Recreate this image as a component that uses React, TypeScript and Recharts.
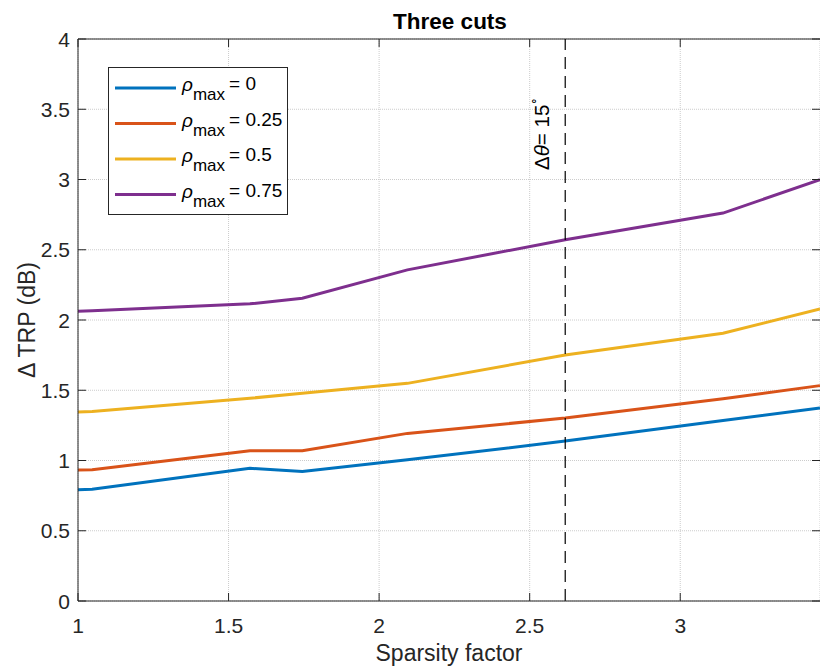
import React from 'react';
import { LineChart, Line, XAxis, YAxis, CartesianGrid, ReferenceLine } from 'recharts';

// ---- data ----
const sparsity = [1, 1.047, 1.571, 1.745, 2.094, 2.618, 3.142, 3.464];
const rho0 = [0.792, 0.795, 0.944, 0.922, 1.005, 1.138, 1.285, 1.373];
const rho025 = [0.932, 0.935, 1.07, 1.07, 1.193, 1.302, 1.44, 1.533];
const rho05 = [1.345, 1.348, 1.443, 1.478, 1.549, 1.751, 1.906, 2.079];
const rho075 = [2.062, 2.065, 2.115, 2.155, 2.357, 2.571, 2.761, 2.998];
const seriesKeys = ['r0', 'r025', 'r05', 'r075'];
const seriesValues = [rho0, rho025, rho05, rho075];
const seriesLabels = ['0', '0.25', '0.5', '0.75'];
const seriesColors = ['#0072BD', '#D95319', '#EDB120', '#7E2F8E'];
const xTicks = [1, 1.5, 2, 2.5, 3];
const yTicks = [0, 0.5, 1, 1.5, 2, 2.5, 3, 3.5, 4];
const xDomain = [1, 3.4641];
const yDomain = [0, 4];
const cutSparsity = 2.618;
const titleText = 'Three cuts';
const xLabel = 'Sparsity factor';
const yLabel = '\u0394 TRP (dB)';

const data = sparsity.map((x, i) => {
  const row: Record<string, number> = { x };
  seriesKeys.forEach((k, j) => {
    row[k] = seriesValues[j][i];
  });
  return row;
});

// ---- layout ----
const W = 820;
const H = 668;
const PL = 78;
const PT = 39;
const PR = 820;
const PB = 601;
const FONT = '"Liberation Sans", Arial, Helvetica, sans-serif';
const AX = '#262626';

const YTick = (props: any) => {
  const { y, payload } = props;
  return (
    <g>
      <line x1={PL} x2={PL + 8} y1={y} y2={y} stroke={AX} strokeWidth={1} />
      <line x1={PR - 8} x2={PR} y1={y} y2={y} stroke={AX} strokeWidth={1} />
      <text x={PL - 8} y={y} textAnchor="end" dominantBaseline="central" fontFamily={FONT} fontSize={21} fill={AX}>
        {String(payload.value)}
      </text>
    </g>
  );
};

const XTick = (props: any) => {
  const { x, payload } = props;
  return (
    <g>
      <line x1={x} x2={x} y1={PB} y2={PB - 8} stroke={AX} strokeWidth={1} />
      <line x1={x} x2={x} y1={PT} y2={PT + 8} stroke={AX} strokeWidth={1} />
      <text x={x} y={PB + 24} textAnchor="middle" dominantBaseline="central" fontFamily={FONT} fontSize={21} fill={AX}>
        {String(payload.value)}
      </text>
    </g>
  );
};

const CutLabel = (props: any) => {
  const vb = props.viewBox || {};
  const bx = (vb.x ?? 0) - 16;
  const by = 170;
  return (
    <text
      x={bx}
      y={by}
      transform={`rotate(-90 ${bx} ${by})`}
      fontFamily={FONT}
      fontSize={20.5}
      fill="#000"
      textAnchor="start"
    >
      <tspan>{'\u0394'}</tspan>
      <tspan fontStyle="italic">{'\u03B8'}</tspan>
      <tspan>{'= 15'}</tspan>
      <tspan fontSize={12} dy={-11}>{'\u2218'}</tspan>
    </text>
  );
};

const LegendBox = () => {
  const lx = 108;
  const ly = 67;
  const rowH = 35.5;
  return (
    <g>
      <rect x={lx + 0.5} y={ly + 0.5} width={179} height={147} fill="#fff" stroke={AX} strokeWidth={1} />
      {seriesLabels.map((lab, i) => {
        const cy = 88 + i * rowH;
        return (
          <g key={lab}>
            <line x1={115} x2={176} y1={cy} y2={cy} stroke={seriesColors[i]} strokeWidth={3} />
            <text x={182} y={cy + 3} fontFamily={FONT} fontSize={19} fill="#000">
              <tspan fontStyle="italic">{'\u03C1'}</tspan>
              <tspan fontSize={17} dy={9}>max</tspan>
              <tspan dy={-10} dx={4}>{'= ' + lab}</tspan>
            </text>
          </g>
        );
      })}
    </g>
  );
};

export default function App() {
  return (
    <div style={{ position: 'absolute', left: 0, top: 0, width: W, height: H, background: '#fff' }}>
      <LineChart width={W} height={H} data={data} margin={{ top: PT, right: 0, bottom: 0, left: 0 }}>
        <CartesianGrid stroke="#cccccc" strokeDasharray="1 1" strokeWidth={1} vertical horizontal />
        <XAxis
          dataKey="x"
          type="number"
          domain={xDomain}
          ticks={xTicks}
          allowDataOverflow
          height={H - PB}
          tickLine={false}
          axisLine={{ stroke: AX, strokeWidth: 1 }}
          tick={<XTick />}
          interval={0}
        />
        <YAxis
          type="number"
          domain={yDomain}
          ticks={yTicks}
          allowDataOverflow
          width={PL}
          tickLine={false}
          axisLine={{ stroke: AX, strokeWidth: 1 }}
          tick={<YTick />}
          interval={0}
        />
        <ReferenceLine y={4} stroke={AX} strokeWidth={1} />
        {seriesKeys.map((k, i) => (
          <Line
            key={k}
            type="linear"
            dataKey={k}
            stroke={seriesColors[i]}
            strokeWidth={3}
            dot={false}
            activeDot={false}
            isAnimationActive={false}
          />
        ))}
        <ReferenceLine
          x={cutSparsity}
          stroke="#000"
          strokeWidth={1.2}
          strokeDasharray="12 7"
          label={<CutLabel />}
        />
      </LineChart>
      <svg width={W} height={H} style={{ position: 'absolute', left: 0, top: 0, pointerEvents: 'none' }}>
        <text x={450} y={29} textAnchor="middle" fontFamily={FONT} fontSize={22.5} fontWeight="bold" fill="#000">
          {titleText}
        </text>
        <text x={449} y={661} textAnchor="middle" fontFamily={FONT} fontSize={23} fill={AX}>
          {xLabel}
        </text>
        <text
          x={35}
          y={320}
          transform="rotate(-90 35 320)"
          textAnchor="middle"
          fontFamily={FONT}
          fontSize={23}
          fill={AX}
        >
          {yLabel}
        </text>
        <LegendBox />
      </svg>
    </div>
  );
}
